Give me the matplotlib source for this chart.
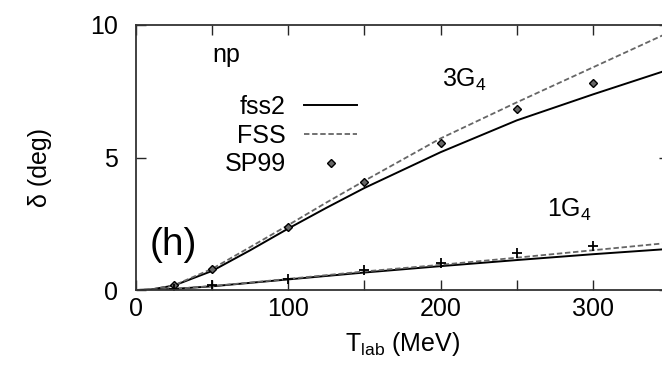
import matplotlib
matplotlib.use("Agg")
import matplotlib.pyplot as plt
from matplotlib.ticker import FuncFormatter

plt.rcParams['font.family'] = ['Liberation Sans', 'DejaVu Sans']
plt.rcParams['mathtext.default'] = 'regular'

# ---- data ----
t_curve = [0, 10, 25, 50, 75, 100, 125, 150, 200, 250, 300, 350]
g3_fss2 = [0, 0.02, 0.17, 0.72, 1.50, 2.32, 3.10, 3.85, 5.20, 6.40, 7.38, 8.32]
g3_fss = [0, 0.02, 0.18, 0.80, 1.62, 2.45, 3.30, 4.12, 5.72, 7.08, 8.40, 9.72]
g1_fss2 = [0, 0.005, 0.04, 0.14, 0.27, 0.40, 0.53, 0.66, 0.90, 1.13, 1.35, 1.55]
g1_fss = [0, 0.005, 0.04, 0.15, 0.28, 0.42, 0.56, 0.70, 0.95, 1.22, 1.50, 1.78]

t_sp99 = [25, 50, 100, 150, 200, 250, 300]
g3_sp99 = [0.18, 0.78, 2.38, 4.08, 5.55, 6.83, 7.80]
g1_sp99 = [0.05, 0.17, 0.40, 0.75, 1.03, 1.38, 1.65]

x_ticks = [0, 50, 100, 150, 200, 250, 300, 350]
y_ticks = [0, 5, 10]

W, H = 662, 367
fig = plt.figure(figsize=(W / 100, H / 100), dpi=100)
ax = fig.add_axes([136 / W, (H - 290) / H, 533 / W, 265 / H])

ax.plot(t_curve, g3_fss2, color='black', lw=1.4, label='fss2')
ax.plot(t_curve, g3_fss, color='0.4', lw=1.3, ls=(0, (3, 1.5)), label='FSS')
ax.plot(t_sp99, g3_sp99, ls='none', marker='D', ms=4.5, mfc='0.4', mec='black',
        mew=1.0, label='SP99')
ax.plot(t_curve, g1_fss2, color='black', lw=1.4)
ax.plot(t_curve, g1_fss, color='0.4', lw=1.3, ls=(0, (3, 1.5)))
ax.plot(t_sp99, g1_sp99, ls='none', marker='+', ms=7.5, mew=1.3, color='black')

ax.set_xlim(0, 350)
ax.set_ylim(0, 10)
ax.set_xticks(x_ticks)
ax.xaxis.set_major_formatter(FuncFormatter(lambda v, p: f"{int(v)}" if int(v) % 100 == 0 else ""))
ax.set_yticks(y_ticks)
ax.tick_params(direction='in', length=7.2, width=1.0, top=True, right=True,
               labelsize=18, color='0.15')
ax.tick_params(axis='y', pad=13)
ax.tick_params(axis='x', pad=5)
for s in ax.spines.values():
    s.set_linewidth(1.3)
    s.set_color('0.2')

ax.set_xlabel('T$_{lab}$ (MeV)', fontsize=18)
ax.xaxis.set_label_coords(0.5, -0.15)
ax.set_ylabel('δ (deg)', fontsize=18)
ax.yaxis.set_label_coords(-0.158, 0.464)

ax.text(0.1426, 0.860, 'np', transform=ax.transAxes, fontsize=18, va='baseline', ha='left')
ax.text(0.574, 0.766, '3G$_4$', transform=ax.transAxes, fontsize=18, va='baseline', ha='left')
ax.text(0.771, 0.2755, '1G$_4$', transform=ax.transAxes, fontsize=18, va='baseline', ha='left')
ax.text(0.0694, 0.170, '(h)', transform=ax.transAxes, fontsize=28, va='center', ha='center')

ax.legend(loc='upper right', bbox_to_anchor=(0.4146, 0.736), frameon=False,
          markerfirst=False, fontsize=18, handlelength=2.1, handletextpad=0.75,
          labelspacing=0.19, borderpad=0, borderaxespad=0, numpoints=1)

fig.savefig('out.png', dpi=100)
